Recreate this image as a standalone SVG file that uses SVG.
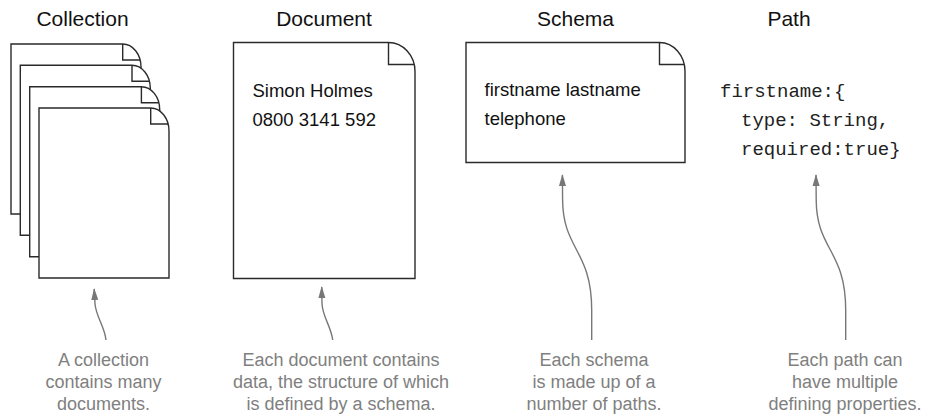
<svg xmlns="http://www.w3.org/2000/svg" width="925" height="416" viewBox="0 0 925 416">
<style>
.title{font-family:"Liberation Sans",Arial,sans-serif;font-size:21px;fill:#111;text-anchor:middle}
.body{font-family:"Liberation Sans",Arial,sans-serif;font-size:18.5px;fill:#111}
.mono{font-family:"Liberation Mono","Courier New",monospace;font-size:19px;fill:#222}
.cap{font-family:"Liberation Sans",Arial,sans-serif;font-size:18px;fill:#808080;text-anchor:middle}
.page{fill:#fff;stroke:#2a2a2a;stroke-width:1.4;stroke-linejoin:miter}
.fold{fill:none;stroke:#2a2a2a;stroke-width:1.4}
.conn{fill:none;stroke:#777;stroke-width:1.4}
</style>
<defs>
<marker id="arr" viewBox="0 0 12 8" refX="11" refY="4" markerWidth="12" markerHeight="8" markerUnits="userSpaceOnUse" orient="auto">
<path d="M0,0.5 L12,4 L0,7.5 Z" fill="#777"/>
</marker>
</defs>
<rect width="925" height="416" fill="#fff"/>

<g id="collection">
<text class="title" x="82.5" y="26">Collection</text>
<path class="page" d="M11,44 H122.7 A18.3 23 0 0 1 141,67 V214 H11 Z"/>
<path class="fold" d="M122.7,44 V60 H140.1"/>
<path class="page" d="M20.3,65.3 H132 A18.3 23 0 0 1 150.3,88.3 V235.3 H20.3 Z"/>
<path class="fold" d="M132,65.3 V81.3 H149.4"/>
<path class="page" d="M29.7,86.7 H141.4 A18.3 23 0 0 1 159.7,109.7 V256.7 H29.7 Z"/>
<path class="fold" d="M141.4,86.7 V102.7 H158.8"/>
<path class="page" d="M39,108 H150.7 A18.3 23 0 0 1 169,131 V278 H39 Z"/>
<path class="fold" d="M150.7,108 V124 H168.1"/>
</g>

<g id="document">
<text class="title" x="324" y="26">Document</text>
<path class="page" d="M233.5,42.5 H388.5 A26.5 29 0 0 1 415,71.5 V278.5 H233.5 Z"/>
<path class="fold" d="M388.5,42.5 V64.5 H414.2"/>
<text class="body" x="252.5" y="97">Simon Holmes</text>
<text class="body" x="252.5" y="125.5">0800 3141 592</text>
</g>

<g id="schema">
<text class="title" x="575.5" y="26">Schema</text>
<path class="page" d="M466,42.5 H659.5 A25.5 29 0 0 1 685,71.5 V162.5 H466 Z"/>
<path class="fold" d="M659.5,42.5 V64.5 H684.2"/>
<text class="body" x="484.5" y="96">firstname lastname</text>
<text class="body" x="484.5" y="125">telephone</text>
</g>

<g id="path">
<text class="title" x="789" y="26">Path</text>
<text class="mono" x="720" y="97">firstname:{</text>
<text class="mono" x="741" y="126">type: String,</text>
<text class="mono" x="741" y="155">required:true}</text>
</g>

<g id="connectors">
<path class="conn" marker-end="url(#arr)" d="M106,340 C104.5,326 96.5,318 95,304 L94.2,289"/>
<path class="conn" marker-end="url(#arr)" d="M332.7,340 C331,326 323,318 322,304 L321.7,287"/>
<path class="conn" marker-end="url(#arr)" d="M591.7,340 L591.7,310 C591.7,250 563,250 562.6,200 L562.4,175"/>
<path class="conn" marker-end="url(#arr)" d="M845.7,340 L845.7,310 C845.7,250 816.5,250 816.2,200 L816,175"/>
</g>

<g id="captions">
<text class="cap" y="366"><tspan x="103.5">A collection</tspan><tspan x="103.5" dy="22">contains many</tspan><tspan x="103.5" dy="22">documents.</tspan></text>
<text class="cap" y="366"><tspan x="341">Each document contains</tspan><tspan x="341" dy="22">data, the structure of which</tspan><tspan x="341" dy="22">is defined by a schema.</tspan></text>
<text class="cap" y="366"><tspan x="594">Each schema</tspan><tspan x="594" dy="22">is made up of a</tspan><tspan x="594" dy="22">number of paths.</tspan></text>
<text class="cap" y="366"><tspan x="845">Each path can</tspan><tspan x="845" dy="22">have multiple</tspan><tspan x="845" dy="22">defining properties.</tspan></text>
</g>
</svg>
